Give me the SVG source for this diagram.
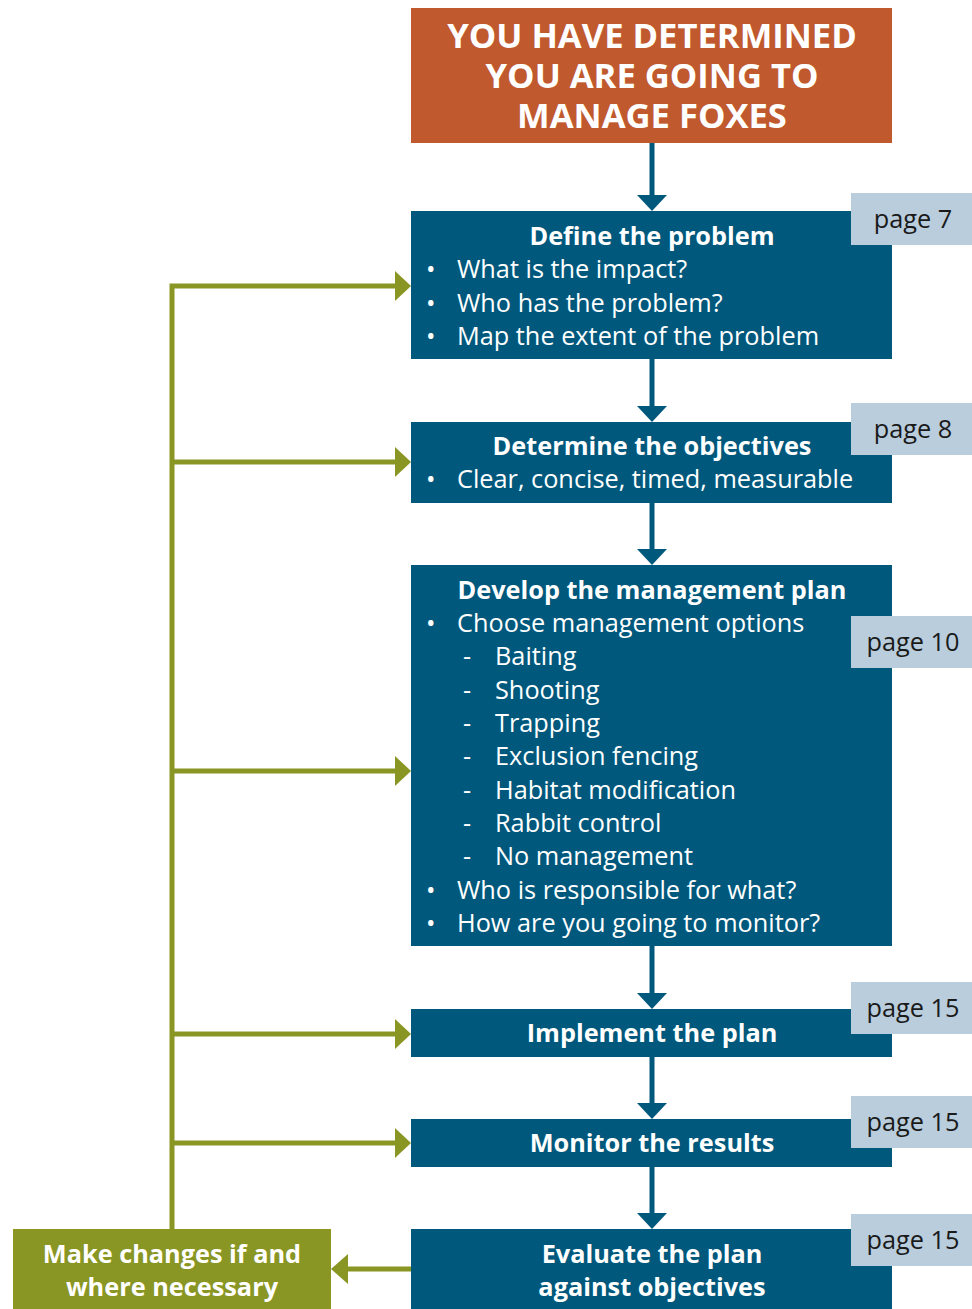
<svg xmlns="http://www.w3.org/2000/svg" width="972" height="1309" viewBox="0 0 972 1309">
<defs>
<style>
.t{font-family:"Open Sans","Noto Sans",sans-serif;fill:#fff}
.b{font-weight:bold;font-size:25.3px;text-anchor:middle}
.r{font-size:25.3px}
.h{font-weight:bold;font-size:34.6px;text-anchor:middle}
.pg{font-family:"Open Sans","Noto Sans",sans-serif;font-size:25.3px;fill:#1a1a1a;text-anchor:middle}
.box{fill:#00587C}
.pbox{fill:#B9CDDD}
.bl{stroke:#00587C;stroke-width:5;fill:none}
.ol{stroke:#8A9624;stroke-width:5;fill:none}
.bh{fill:#00587C}
.oh{fill:#8A9624}
</style>
</defs>
<rect width="972" height="1309" fill="#fff"/>

<g id="connectors">
<line class="bl" x1="652" y1="143" x2="652" y2="197"/>
<polygon class="bh" points="637,195 667,195 652,211"/>
<line class="bl" x1="652" y1="359" x2="652" y2="408"/>
<polygon class="bh" points="637,406 667,406 652,422"/>
<line class="bl" x1="652" y1="503" x2="652" y2="551"/>
<polygon class="bh" points="637,549 667,549 652,565"/>
<line class="bl" x1="652" y1="946" x2="652" y2="995"/>
<polygon class="bh" points="637,993 667,993 652,1009"/>
<line class="bl" x1="652" y1="1057" x2="652" y2="1105"/>
<polygon class="bh" points="637,1103 667,1103 652,1119"/>
<line class="bl" x1="652" y1="1167" x2="652" y2="1215"/>
<polygon class="bh" points="637,1213 667,1213 652,1229"/>

<line class="ol" x1="411" y1="1269" x2="345" y2="1269"/>
<polygon class="oh" points="348,1254 348,1284 331,1269"/>
<polyline class="ol" points="172,1229 172,286 397,286"/>
<polygon class="oh" points="395,271 395,301 411,286"/>
<line class="ol" x1="172" y1="462" x2="397" y2="462"/>
<polygon class="oh" points="395,447 395,477 411,462"/>
<line class="ol" x1="172" y1="771" x2="397" y2="771"/>
<polygon class="oh" points="395,756 395,786 411,771"/>
<line class="ol" x1="172" y1="1034" x2="397" y2="1034"/>
<polygon class="oh" points="395,1019 395,1049 411,1034"/>
<line class="ol" x1="172" y1="1143" x2="397" y2="1143"/>
<polygon class="oh" points="395,1128 395,1158 411,1143"/>
</g>

<g id="start">
<rect x="411" y="8" width="481" height="135" fill="#C0592D"/>
<text class="t h" x="652" y="48">YOU HAVE DETERMINED</text>
<text class="t h" x="652" y="88">YOU ARE GOING TO</text>
<text class="t h" x="652" y="128">MANAGE FOXES</text>
</g>

<g id="define">
<rect class="box" x="411" y="211" width="481" height="148"/>
<text class="t b" x="652" y="245">Define the problem</text>
<text class="t r" x="426" y="278">•</text><text class="t r" x="457" y="278">What is the impact?</text>
<text class="t r" x="426" y="312">•</text><text class="t r" x="457" y="312">Who has the problem?</text>
<text class="t r" x="426" y="345">•</text><text class="t r" x="457" y="345">Map the extent of the problem</text>
<rect class="pbox" x="851" y="193" width="121" height="52"/>
<text class="pg" x="913" y="228">page 7</text>
</g>

<g id="objectives">
<rect class="box" x="411" y="422" width="481" height="81"/>
<text class="t b" x="652" y="455">Determine the objectives</text>
<text class="t r" x="426" y="488">•</text><text class="t r" x="457" y="488">Clear, concise, timed, measurable</text>
<rect class="pbox" x="851" y="403" width="121" height="52"/>
<text class="pg" x="913" y="438">page 8</text>
</g>

<g id="plan">
<rect class="box" x="411" y="565" width="481" height="381"/>
<text class="t b" x="652" y="599">Develop the management plan</text>
<text class="t r" x="426" y="632">•</text><text class="t r" x="457" y="632">Choose management options</text>
<text class="t r" x="463" y="665">-</text><text class="t r" x="495" y="665">Baiting</text>
<text class="t r" x="463" y="699">-</text><text class="t r" x="495" y="699">Shooting</text>
<text class="t r" x="463" y="732">-</text><text class="t r" x="495" y="732">Trapping</text>
<text class="t r" x="463" y="765">-</text><text class="t r" x="495" y="765">Exclusion fencing</text>
<text class="t r" x="463" y="799">-</text><text class="t r" x="495" y="799">Habitat modification</text>
<text class="t r" x="463" y="832">-</text><text class="t r" x="495" y="832">Rabbit control</text>
<text class="t r" x="463" y="865">-</text><text class="t r" x="495" y="865">No management</text>
<text class="t r" x="426" y="899">•</text><text class="t r" x="457" y="899">Who is responsible for what?</text>
<text class="t r" x="426" y="932">•</text><text class="t r" x="457" y="932">How are you going to monitor?</text>
<rect class="pbox" x="851" y="616" width="121" height="52"/>
<text class="pg" x="913" y="651">page 10</text>
</g>

<g id="implement">
<rect class="box" x="411" y="1009" width="481" height="48"/>
<text class="t b" x="652" y="1042">Implement the plan</text>
<rect class="pbox" x="851" y="982" width="121" height="52"/>
<text class="pg" x="913" y="1017">page 15</text>
</g>

<g id="monitor">
<rect class="box" x="411" y="1119" width="481" height="48"/>
<text class="t b" x="652" y="1152">Monitor the results</text>
<rect class="pbox" x="851" y="1096" width="121" height="52"/>
<text class="pg" x="913" y="1131">page 15</text>
</g>

<g id="evaluate">
<rect class="box" x="411" y="1229" width="481" height="80"/>
<text class="t b" x="652" y="1263">Evaluate the plan</text>
<text class="t b" x="652" y="1296">against objectives</text>
<rect class="pbox" x="851" y="1214" width="121" height="52"/>
<text class="pg" x="913" y="1249">page 15</text>
</g>

<g id="changes">
<rect x="13" y="1229" width="318" height="80" fill="#8A9624"/>
<text class="t b" x="172" y="1263">Make changes if and</text>
<text class="t b" x="172" y="1296">where necessary</text>
</g>
</svg>
